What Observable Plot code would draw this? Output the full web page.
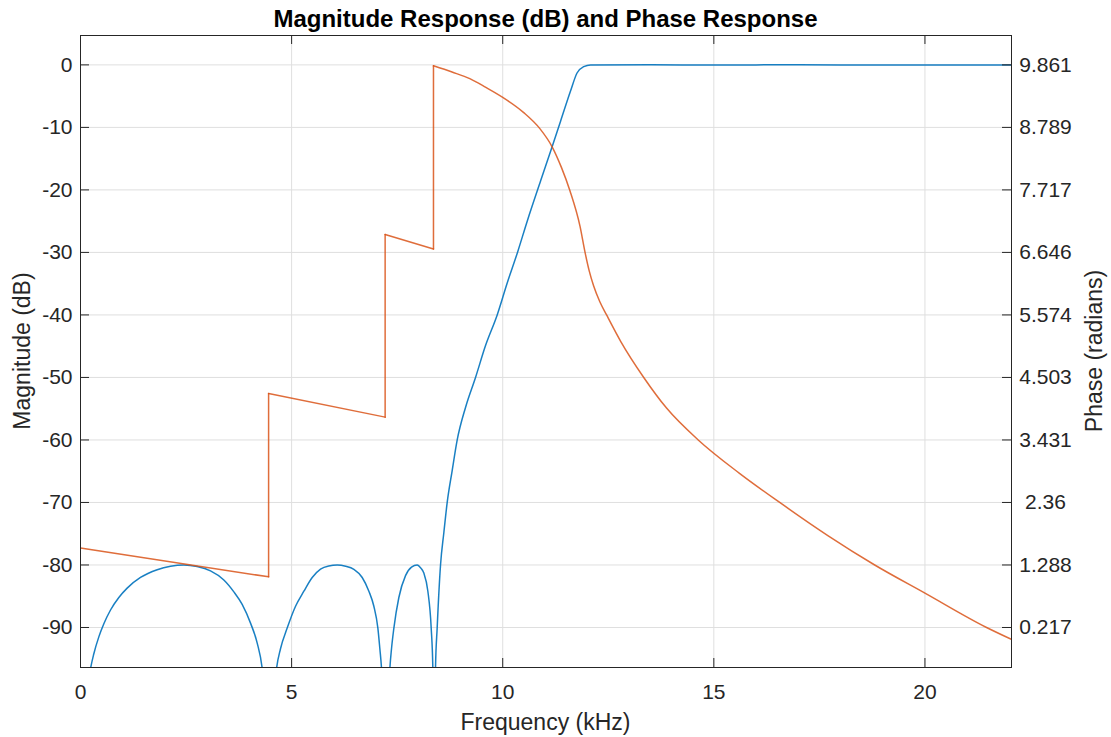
<!DOCTYPE html>
<html><head><meta charset="utf-8">
<script src="https://cdn.jsdelivr.net/npm/d3@7"></script>
<script src="https://cdn.jsdelivr.net/npm/@observablehq/plot@0.6"></script>
<style>
html,body{margin:0;padding:0;background:#fff;}
#chart{width:1111px;height:737px;}
</style></head><body><div id="chart"></div>
<script>
// Magnitude response (dB) vs frequency (kHz)
const magFreq = [0.01,0.15,0.237,0.316,0.434,0.553,0.711,0.908,1.105,1.421,1.816,2.132,2.448,2.763,3.079,3.395,3.632,3.829,4.027,4.185,4.304,4.40,4.47,4.55,4.643,4.737,4.895,5.093,5.290,5.488,5.685,5.88,6.080,6.28,6.475,6.672,6.830,6.948,7.043,7.090,7.130,7.18,7.225,7.28,7.327,7.366,7.422,7.540,7.698,7.84,7.974,8.06,8.132,8.227,8.306,8.345,8.368,8.408,8.448,8.527,8.606,8.685,8.803,8.922,9.119,9.356,9.593,9.869,10.11,10.35,10.58,10.90,11.17,11.37,11.61,11.76,11.92,12.08,13.5,15,17,19,22.05];
const magDb = [-140,-100.6,-96.6,-94.2,-91.5,-89.4,-87.2,-85.2,-83.7,-82.0,-80.75,-80.2,-80.0,-80.25,-80.95,-82.4,-84.3,-86.3,-89.3,-92.5,-96.6,-104,-140,-104,-96.6,-93.4,-90.1,-86.6,-84.2,-82.0,-80.65,-80.15,-80.0,-80.2,-80.7,-82.0,-84.2,-86.6,-90.1,-93.4,-96.6,-104,-140,-104,-96.6,-93.4,-90.1,-85.2,-81.7,-80.34,-80.0,-80.5,-81.3,-84.2,-90.1,-96.5,-140,-96.5,-90,-80,-74.8,-70,-64.9,-60,-54.8,-50,-44.9,-40,-34.8,-30,-25,-18.5,-13.1,-9.0,-4.1,-1.3,-0.27,0,0.02,-0.02,0.02,-0.02,0];

// Phase response (radians) vs frequency (kHz); repeated frequencies are the π jumps
const phaseFreq = [0,4.455,4.455,7.215,7.215,8.36,8.36,8.8,9.22,9.6,10.0,10.49,10.88,11.17,11.39,11.59,11.83,11.95,12.05,12.15,12.3,12.46,12.8,13.34,13.88,14.63,15.6,16.56,17.7,18.81,20.0,21.46,22.05];
const phaseRad = [1.578,1.085,4.227,3.823,6.955,6.705,9.845,9.738,9.625,9.475,9.304,9.047,8.768,8.457,8.104,7.707,7.096,6.646,6.325,6.078,5.800,5.575,5.114,4.503,3.978,3.432,2.864,2.360,1.792,1.288,0.806,0.217,0.013];

// Axis ticks
const xTicks = [0,5,10,15,20];
const magTicks = [0,-10,-20,-30,-40,-50,-60,-70,-80,-90];
const phaseTickLabels = ["9.861","8.789","7.717","6.646","5.574","4.503","3.431","2.36","1.288","0.217"];

const titleText = "Magnitude Response (dB) and Phase Response";
const xLabel = "Frequency (kHz)";
const yLabelLeft = "Magnitude (dB)";
const yLabelRight = "Phase (radians)";

// phase axis is aligned with the magnitude ticks
const pTop = parseFloat(phaseTickLabels[0]);
const pBot = parseFloat(phaseTickLabels[phaseTickLabels.length-1]);
const magTop = magTicks[0], magBot = magTicks[magTicks.length-1];
const phaseToMag = p => magTop + (p - pTop) / (pTop - pBot) * (magTop - magBot);

const magData = magFreq.map((f,i)=>({f, v: magDb[i]}));

// split phase into smooth pieces and vertical jump pieces
const phData = [];
let seg = 0;
for (let i = 0; i < phaseFreq.length; i++) {
  if (i > 0 && phaseFreq[i] === phaseFreq[i-1]) {
    phData.push({f: phaseFreq[i-1], v: phaseToMag(phaseRad[i-1]), z: "j"+i});
    phData.push({f: phaseFreq[i], v: phaseToMag(phaseRad[i]), z: "j"+i});
    seg++;
  }
  phData.push({f: phaseFreq[i], v: phaseToMag(phaseRad[i]), z: "s"+seg});
}

const W=1111, H=737, mL=80, mR=100, mT=35, mB=70;
const iw=W-mL-mR, ih=H-mT-mB;
const font = "'Liberation Sans', Arial, Helvetica, sans-serif";
const ink = "#262626";
const grid = "#dfdfdf";

const chart = Plot.plot({
  width: W, height: H,
  marginLeft: mL, marginRight: mR, marginTop: mT, marginBottom: mB,
  style: {fontFamily: font, fontSize: "21px", color: ink, background: "#fff", overflow: "visible"},
  x: {domain: [0, 22.05]},
  y: {domain: [-96.4, 4.7]},
  marks: [
    Plot.gridX(xTicks, {stroke: grid, strokeOpacity: 1, strokeWidth: 1}),
    Plot.gridY(magTicks, {stroke: grid, strokeOpacity: 1, strokeWidth: 1}),
    Plot.line(magData, {x: "f", y: "v", stroke: "#0072bd", strokeWidth: 1.5, strokeOpacity: 0.9, curve: "monotone-x", clip: true}),
    Plot.line(phData, {x: "f", y: "v", z: "z", stroke: "#d95319", strokeWidth: 1.5, strokeOpacity: 0.85, curve: "monotone-x", clip: true}),
    Plot.frame({stroke: ink, strokeWidth: 1}),
    Plot.tickX(xTicks, {x: d=>d, stroke: ink, insetTop: ih-9}),
    Plot.tickX(xTicks, {x: d=>d, stroke: ink, insetBottom: ih-9}),
    Plot.tickY(magTicks, {y: d=>d, stroke: ink, insetRight: iw-9}),
    Plot.tickY(magTicks, {y: d=>d, stroke: ink, insetLeft: iw-9}),
    Plot.axisX(xTicks, {tickSize: 0, tickPadding: 17, label: null, fill: ink, fontSize: 21, tickFormat: d=>String(d)}),
    Plot.axisY(magTicks, {anchor: "left", tickSize: 0, tickPadding: 8, label: null, fill: ink, fontSize: 21, tickFormat: d=>String(d)}),
    Plot.text(magTicks, {y: d=>d, text: (d,i)=>phaseTickLabels[i], frameAnchor: "right", dx: 34, textAnchor: "middle", fill: ink, fontSize: 21})
  ]
});

const svg = d3.select(chart);
svg.append("text").attr("x", mL+iw/2).attr("y", 27).attr("text-anchor","middle")
  .attr("font-family", font).attr("font-size", 24).attr("font-weight","bold").attr("fill","#000").text(titleText);
svg.append("text").attr("x", mL+iw/2).attr("y", 730).attr("text-anchor","middle")
  .attr("font-family", font).attr("font-size", 23).attr("fill", ink).text(xLabel);
svg.append("text").attr("transform", `translate(30,${mT+ih/2}) rotate(-90)`).attr("text-anchor","middle")
  .attr("font-family", font).attr("font-size", 23).attr("fill", ink).text(yLabelLeft);
svg.append("text").attr("transform", `translate(1102,${mT+ih/2}) rotate(-90)`).attr("text-anchor","middle")
  .attr("font-family", font).attr("font-size", 23).attr("fill", ink).text(yLabelRight);

document.getElementById("chart").appendChild(chart);
</script>
</body></html>
